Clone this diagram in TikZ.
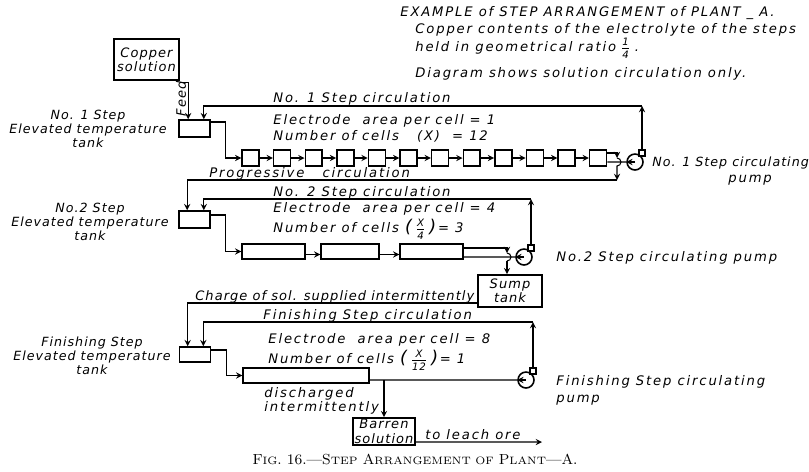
\documentclass[tikz,border=0pt]{standalone}
\usepackage{fontspec}
\newfontfamily\handfamily[LetterSpace=14.0]{DejaVu Sans}
\newfontfamily\sidefamily[LetterSpace=8.0]{DejaVu Sans}
\newcommand\handtext{\handfamily\itshape\fontsize{7.5}{8.2}\selectfont}
\newcommand\handmid{\sidefamily\itshape\fontsize{7.4}{8.2}\selectfont}
\newcommand\handsmall{\sidefamily\itshape\fontsize{5.8}{6}\selectfont}
\newcommand\handtight{\sidefamily\itshape\fontsize{7.2}{5.7}\selectfont}
\newcommand\bigparen[1]{{\sidefamily\itshape\fontsize{10}{10}\selectfont #1}}
\newcommand\stackfrac[2]{$\vcenter{\offinterlineskip\halign{\hfil##\hfil\cr
  \handsmall #1\cr\noalign{\kern1.4pt\hrule\kern1.4pt}\handsmall #2\cr}}$}
\newcommand\cellfrac[2]{\bigparen{(}\kern3pt\stackfrac{#1}{#2}\kern3pt\bigparen{)}\kern1pt}
\newcommand\capsmall[1]{{\fontsize{6.1}{8}\selectfont #1}}
\usetikzlibrary{positioning}
\tikzset{
  lbl/.style={font=\handtext, inner sep=0, anchor=base west},
  sidelbl/.style={font=\handtight, inner sep=0, align=center},
  tankbox/.style={draw, line width=0.9pt, minimum width=0.62cm, minimum height=0.34cm, inner sep=0},
  cellbox/.style={draw, line width=0.8pt, minimum width=0.34cm, minimum height=0.32cm, inner sep=0},
  longcell/.style={draw, line width=0.8pt, minimum height=0.3cm, inner sep=0},
  namebox/.style={draw, line width=0.9pt, font=\handmid, align=center, inner sep=0},
  pumpbody/.style={draw, circle, line width=0.9pt, minimum size=0.32cm, inner sep=0},
  pumpneck/.style={draw, line width=0.7pt, minimum size=0.12cm, inner sep=0},
  pipe/.style={line width=0.6pt},
}
\begin{document}
\begin{tikzpicture}[x=0.02cm,y=-0.02cm]
\useasboundingbox (0,0) rectangle (809,471);

% heading
\node[lbl] (head1) at (400,16) {EXAMPLE of STEP ARRANGEMENT of PLANT \_ A.};
\node[lbl] (head2) at (415,33) {Copper contents of the electrolyte of the steps};
\node[lbl] (head3) at (415,51) {held in geometrical ratio \stackfrac{1}{4} .};
\node[lbl] (head4) at (415,77) {Diagram shows solution circulation only.};

% feed and tanks
\node[namebox, minimum width=1.3cm, minimum height=0.82cm] (cu) at (146.5,59.5) {Copper\\solution};
\node[tankbox] (t1) at (194.5,128.5) {};
\node[tankbox] (t2) at (194.5,219.5) {};
\node[tankbox, minimum height=0.3cm] (t3) at (195,354.5) {};
\node[sidelbl] (lab1) at (88,129) {No. 1 Step\\Elevated temperature\\tank};
\node[sidelbl] (lab2) at (90,222) {No.2 Step\\Elevated temperature\\tank};
\node[sidelbl] (lab3) at (92,356) {Finishing Step\\Elevated temperature\\tank};
\draw[pipe,-stealth] ([yshift=-0.04cm]cu.east |- cu.south) -| ([xshift=0.2cm]t1.north west);
\node[font=\handmid, inner sep=0, rotate=90] (feed) at (181,99) {Feed};

% step 1
\foreach \i in {1,...,12}
  \node[cellbox] (c\i) at ({250.5+31.6*(\i-1)},158) {};
\foreach \i [evaluate=\i as \j using int(\i+1)] in {1,...,11}
  \draw[pipe,-stealth] (c\i.east) -- (c\j.west);
\draw[pipe,-stealth] ([yshift=0.13cm]t1.east) -| ([xshift=-0.32cm]c1.west) -- (c1.west);
\node[pumpbody] (p1) at (635,162) {};
\node[pumpneck] (n1) at (642,153) {};
\coordinate (r1) at (642,106);
\coordinate (hop1) at (617,158);
\coordinate (pc1) at (617,180);
\draw[pipe,-stealth] (n1.north) -- (r1);
\draw[pipe,-stealth] (r1) -| ([xshift=-0.14cm]t1.north east);
\draw[pipe] ([yshift=-0.08cm]c12.east) -- (p1.west);
\draw[pipe,-stealth] (p1.center) -- (p1.west);
\draw[pipe,-stealth] ([yshift=0.1cm]c12.east) -| (hop1);
\draw[pipe,-stealth] (hop1) arc[start angle=90, end angle=-90, radius=0.08cm] -- (pc1);
\draw[pipe,-stealth] (pc1) -| ([xshift=0.18cm]t2.north west);
\node[lbl] (circ1) at (273,102) {No. 1 Step circulation};
\node[lbl] (area1) at (273,124) {Electrode~ area per cell = 1};
\node[lbl] (num1) at (273,140) {Number of cells ~~(X) ~= 12};
\node[lbl] (prog) at (209,177) {Progressive~~ circulation};
\node[lbl, font=\handtight] (pl1) at (652,166) {No. 1 Step circulating};
\node[lbl] (pl1b) at (728,182) {pump};

% step 2
\node[longcell, minimum width=1.26cm] (lc1) at (273.5,251.5) {};
\node[longcell, minimum width=1.16cm] (lc2) at (350,251.5) {};
\node[longcell, minimum width=1.26cm] (lc3) at (431.5,251.5) {};
\draw[pipe,-stealth] ([yshift=-0.06cm]lc1.east) -- ([yshift=-0.06cm]lc2.west);
\draw[pipe,-stealth] ([yshift=-0.06cm]lc2.east) -- ([yshift=-0.06cm]lc3.west);
\draw[pipe,-stealth] ([yshift=0.09cm]t2.east) -| ([xshift=-0.32cm]lc1.west) -- (lc1.west);
\node[pumpbody] (p2) at (524,257) {};
\node[pumpneck] (n2) at (531,248) {};
\node[namebox, minimum width=1.28cm, minimum height=0.64cm] (sump) at (510,291) {Sump\\tank};
\coordinate (r2) at (531,199);
\coordinate (hop2) at (507,253);
\coordinate (hop2b) at (507,261);
\draw[pipe,-stealth] (n2.north) -- (r2);
\draw[pipe,-stealth] (r2) -| ([xshift=-0.14cm]t2.north east);
\draw[pipe] ([yshift=-0.11cm]lc3.east) -- (p2.west);
\draw[pipe,-stealth] (p2.center) -- (p2.west);
\draw[pipe,-stealth] ([yshift=0.07cm]lc3.east) -| (hop2);
\draw[pipe] (hop2) arc[start angle=90, end angle=-90, radius=0.08cm];
\draw[pipe,-stealth] (hop2b) -- (sump.north -| hop2b);
\node[lbl] (circ2) at (273,196) {No. 2 Step circulation};
\node[lbl] (area2) at (273,212) {Electrode~ area per cell = 4};
\node[lbl] (num2) at (273,232) {Number of cells \cellfrac{X}{4} = 3};
\node[lbl] (pl2) at (556,261) {No.2 Step circulating pump};

% finishing step
\draw[pipe,-stealth] ([yshift=-0.24cm]sump.west) -| ([xshift=0.18cm]t3.north west);
\node[lbl, font=\handmid] (charge) at (195,300) {Charge of sol. supplied intermittently};
\node[longcell, minimum width=2.52cm] (fc) at (306,375.5) {};
\draw[pipe,-stealth] ([yshift=0.09cm]t3.east) -| ([xshift=-0.32cm]fc.west) -- (fc.west);
\node[pumpbody] (p3) at (526,380) {};
\node[pumpneck] (n3) at (533,371) {};
\coordinate (r3) at (533,322);
\draw[pipe,-stealth] (n3.north) -- (r3);
\draw[pipe,-stealth] (r3) -| ([xshift=-0.16cm]t3.north east);
\draw[pipe] ([yshift=-0.09cm]fc.east) -- (p3.west);
\draw[pipe,-stealth] (p3.center) -- (p3.west);
\node[lbl] (circ3) at (263,319) {Finishing Step circulation};
\node[lbl] (area3) at (268,343) {Electrode~ area per cell = 8};
\node[lbl] (num3) at (268,363) {Number of cells \cellfrac{X}{12} = 1};
\node[lbl] (pl3) at (556,385) {Finishing Step circulating};
\node[lbl] (pl3b) at (556,402) {pump};

% barren solution
\node[namebox, minimum width=1.24cm, minimum height=0.54cm] (barren) at (384,431.5) {Barren\\solution};
\coordinate (dj) at (barren.north |- p3.west);
\coordinate (leach) at (542,442);
\draw[pipe,-stealth] (dj) -- (barren.north);
\draw[pipe,-stealth] ([yshift=-0.21cm]barren.east) -- (leach);
\node[lbl, align=left, anchor=north west] (disch) at (264,387) {discharged\\intermittently};
\node[lbl] (leachlbl) at (425,439) {to leach ore};

% caption
\node[font=\fontsize{8.3}{10}\selectfont, inner sep=0] (caption) at (415,459)
  {F\capsmall{IG}. 16.---S\capsmall{TEP} A\capsmall{RRANGEMENT OF} P\capsmall{LANT}---A.};
\end{tikzpicture}
\end{document}
